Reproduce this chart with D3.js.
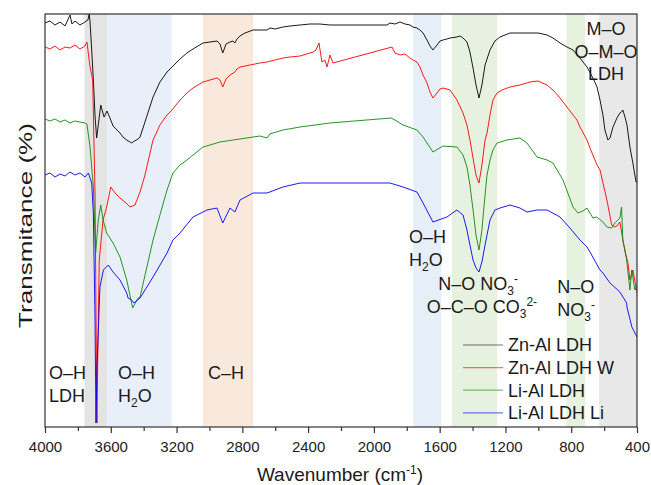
<!DOCTYPE html>
<html>
<head>
<meta charset="utf-8">
<script src="https://cdn.jsdelivr.net/npm/d3@7"></script>
<style>
  body { margin: 0; background: #fff; }
  svg { font-family: "Liberation Sans", Arial, sans-serif; }
</style>
</head>
<body>
<div id="chart"></div>
<script>
// spectra: [wavenumber (cm-1), transmittance (a.u.)]
const znAl = [
  [4000, 404], [3970, 406], [3939, 402], [3909, 405], [3878, 401], [3848, 412], [3836, 403], [3818, 406],
  [3787, 402], [3757, 405], [3739, 407], [3731, 413], [3726, 405], [3716, 377], [3706, 347], [3696, 312],
  [3686, 289], [3676, 302], [3661, 322], [3641, 310], [3623, 316], [3605, 309], [3586, 301], [3562, 297],
  [3544, 294], [3526, 290], [3503, 287], [3483, 285], [3473, 284], [3465, 285], [3434, 288], [3422, 290],
  [3392, 305], [3343, 330], [3301, 345], [3258, 355], [3228, 360], [3179, 368], [3137, 374], [3100, 378],
  [3039, 384], [2997, 385], [2954, 386], [2936, 383], [2919, 374], [2899, 383], [2875, 385], [2857, 386],
  [2845, 384], [2833, 388], [2814, 391], [2784, 394], [2735, 397], [2693, 397], [2650, 397], [2632, 399],
  [2601, 398], [2553, 400], [2510, 401], [2449, 402], [2389, 403], [2328, 403], [2267, 402], [1920, 402],
  [1902, 404], [1872, 403], [1841, 405], [1811, 403], [1780, 402], [1762, 400], [1738, 399], [1720, 397],
  [1701, 394], [1677, 387], [1659, 381], [1641, 377], [1616, 382], [1598, 386], [1580, 387], [1556, 388],
  [1537, 389], [1495, 390], [1476, 391], [1458, 389], [1434, 385], [1416, 375], [1397, 359], [1379, 342],
  [1361, 329], [1343, 342], [1324, 362], [1294, 377], [1264, 386], [1233, 390], [1172, 394], [1112, 394],
  [1051, 394], [1002, 394], [947, 392], [911, 389], [868, 384], [826, 380], [789, 377], [747, 369],
  [704, 360], [668, 349], [643, 340], [625, 327], [607, 312], [595, 297], [577, 287], [564, 289],
  [546, 300], [522, 309], [504, 314], [494, 315], [486, 317], [473, 310], [461, 302], [443, 280],
  [425, 264], [406, 245], [400, 245]
];

const znAlW = [
  [4000, 380], [3970, 378], [3939, 381], [3909, 377], [3878, 380], [3848, 379], [3818, 382], [3787, 378],
  [3757, 381], [3745, 385], [3726, 360], [3710, 347], [3696, 234], [3688, 80], [3684, 4], [3680, 60],
  [3670, 167], [3647, 207], [3625, 220], [3600, 240], [3574, 234], [3544, 229], [3507, 224], [3483, 220],
  [3453, 222], [3422, 235], [3392, 252], [3343, 287], [3301, 302], [3258, 312], [3228, 317], [3179, 327],
  [3137, 334], [3100, 339], [3039, 345], [2997, 347], [2954, 349], [2936, 347], [2919, 340], [2899, 348],
  [2875, 352], [2845, 355], [2833, 358], [2814, 360], [2753, 362], [2693, 364], [2650, 365], [2601, 367],
  [2553, 369], [2510, 370], [2449, 371], [2389, 374], [2370, 375], [2352, 377], [2334, 384], [2316, 365],
  [2298, 367], [2285, 360], [2267, 372], [2249, 364], [1890, 380], [1872, 374], [1841, 372], [1811, 373],
  [1780, 369], [1762, 367], [1738, 365], [1720, 360], [1701, 352], [1677, 344], [1659, 335], [1641, 329],
  [1616, 334], [1598, 338], [1580, 339], [1556, 338], [1537, 337], [1495, 327], [1458, 314], [1434, 302],
  [1416, 287], [1397, 269], [1379, 252], [1361, 244], [1343, 262], [1324, 287], [1312, 294], [1294, 312],
  [1276, 327], [1251, 334], [1221, 337], [1172, 340], [1112, 342], [1051, 345], [1002, 346], [947, 342],
  [911, 337], [868, 329], [826, 320], [789, 312], [765, 307], [747, 300], [704, 287], [686, 279],
  [643, 262], [625, 257], [583, 227], [554, 202], [535, 200], [522, 201], [504, 205], [486, 187],
  [467, 172], [455, 164], [443, 147], [425, 157], [406, 140], [400, 134]
];

const liAl = [
  [4000, 308], [3970, 306], [3939, 308], [3909, 305], [3878, 307], [3848, 304], [3818, 306], [3787, 305],
  [3757, 304], [3745, 303], [3726, 280], [3706, 240], [3692, 174], [3676, 207], [3661, 222], [3647, 207],
  [3625, 194], [3586, 184], [3544, 170], [3503, 147], [3467, 119], [3434, 129], [3422, 130], [3343, 187],
  [3301, 212], [3258, 237], [3222, 254], [3179, 262], [3137, 267], [3100, 272], [3039, 280], [2997, 282],
  [2936, 285], [2856, 287], [2735, 290], [2693, 291], [2650, 289], [2632, 293], [2553, 297], [2449, 300],
  [2267, 304], [1896, 309], [1872, 307], [1823, 302], [1738, 297], [1701, 290], [1641, 275], [1580, 281],
  [1495, 280], [1458, 272], [1434, 260], [1416, 242], [1397, 217], [1379, 192], [1361, 177], [1343, 197],
  [1324, 232], [1312, 252], [1294, 267], [1276, 277], [1251, 284], [1191, 287], [1112, 289], [1069, 284],
  [1008, 270], [947, 267], [911, 264], [850, 247], [789, 220], [759, 214], [729, 216], [704, 219],
  [668, 209], [645, 210], [607, 205], [583, 200], [554, 199], [535, 204], [504, 209], [494, 220],
  [486, 187], [463, 167], [443, 137], [432, 157], [413, 137], [400, 142]
];

const liAlLi = [
  [4000, 252], [3970, 254], [3939, 250], [3909, 253], [3878, 251], [3848, 255], [3818, 252], [3787, 254],
  [3757, 250], [3736, 254], [3716, 244], [3706, 214], [3696, 110], [3690, 4], [3684, 60], [3666, 140],
  [3645, 157], [3615, 162], [3586, 155], [3544, 147], [3503, 134], [3495, 129], [3473, 127], [3459, 124],
  [3422, 129], [3343, 150], [3258, 174], [3222, 187], [3179, 194], [3100, 210], [3015, 217], [2954, 219],
  [2919, 204], [2875, 219], [2845, 215], [2814, 227], [2735, 234], [2650, 234], [2553, 240], [2449, 244],
  [2267, 244], [1902, 244], [1823, 240], [1738, 235], [1701, 224], [1641, 205], [1556, 210], [1495, 217],
  [1458, 212], [1434, 197], [1416, 182], [1397, 167], [1379, 159], [1361, 155], [1343, 165], [1324, 182],
  [1294, 207], [1264, 217], [1233, 219], [1172, 222], [1112, 219], [1069, 215], [1008, 217], [947, 217],
  [868, 210], [808, 199], [747, 187], [704, 180], [686, 175], [625, 157], [607, 154], [564, 144],
  [504, 135], [463, 124], [461, 120], [431, 100], [400, 90]
];

const seriesNames = ["Zn-Al LDH", "Zn-Al LDH W", "Li-Al LDH", "Li-Al LDH Li"];
const seriesData = [znAl, znAlW, liAl, liAlLi];

// highlighted regions (cm-1)
const bandRanges = [[3760, 3620], [3620, 3230], [3040, 2735], [1760, 1590], [1525, 1250], [830, 715], [630, 400]];

const xTicks = [4000, 3600, 3200, 2800, 2400, 2000, 1600, 1200, 800, 400];
const xMinorTicks = [3800, 3400, 3000, 2600, 2200, 1800, 1400, 1000, 600];

// annotation text, segments: [text, "sub" | "sup" | undefined]
const annotations = [
  { wn: 3976, row: 0, lines: [[["O–H"]], [["LDH"]]] },
  { wn: 3556, row: 0, lines: [[["O–H"]], [["H"], ["2", "sub"], ["O"]]] },
  { wn: 3009, row: 0, lines: [[["C–H"]]] },
  { wn: 1786, row: 1, lines: [[["O–H"]], [["H"], ["2", "sub"], ["O"]]] },
  { wn: 1608, row: 2, lines: [[["N–O NO"], ["3", "sub"], ["-", "sup"]]] },
  { wn: 1679, row: 3, lines: [[["O–C–O CO"], ["3", "sub"], ["2-", "sup"]]] },
  { wn: 885, row: 4, lines: [[["N–O"]], [["NO"], ["3", "sub"], ["-", "sup"]]] },
  { wn: 588, row: 5, anchor: "middle", lines: [[["M–O"]], [["O–M–O"]], [["LDH"]]] }
];

const width = 651;
const height = 485;
const margin = { top: 14, left: 45, bottom: 58, right: 14 };
const iwidth = width - margin.left - margin.right;
const iheight = height - margin.top - margin.bottom;

const colors = ["#000000", "#ff0000", "#0a8a0a", "#0000ff"];
const bandColors = ["#e4e4e4", "#e8eff8", "#f9e9dc", "#e6eef8", "#e7f1e0", "#e7f1e0", "#e8e8e8"];
// baseline (px) of the first line of each annotation row
const rowBaselines = [379, 243, 290, 313, 293, 35];

const svg = d3.select("#chart")
  .append("svg")
  .attr("width", width)
  .attr("height", height);

const g = svg.append("g")
  .attr("transform", `translate(${margin.left},${margin.top})`);

const x = d3.scaleLinear().domain([4000, 400]).range([0, iwidth]);
const y = d3.scaleLinear().domain([0, 413]).range([iheight, 0]);

g.append("clipPath")
  .attr("id", "clip")
  .append("rect")
  .attr("width", iwidth)
  .attr("height", iheight);

g.append("g")
  .selectAll("rect")
  .data(bandRanges)
  .enter()
  .append("rect")
  .attr("x", (d) => x(d[0]))
  .attr("y", 0)
  .attr("width", (d) => x(d[1]) - x(d[0]))
  .attr("height", iheight)
  .style("fill", (d, i) => bandColors[i]);

const line = d3.line()
  .x((d) => x(d[0]))
  .y((d) => y(d[1]));

g.append("g")
  .attr("clip-path", "url(#clip)")
  .selectAll("path")
  .data(seriesData)
  .enter()
  .append("path")
  .attr("d", line)
  .style("fill", "none")
  .style("stroke", (d, i) => colors[i])
  .style("stroke-width", 0.9)
  .style("stroke-linejoin", "round");

// frame
g.append("rect")
  .attr("width", iwidth)
  .attr("height", iheight)
  .style("fill", "none")
  .style("stroke", "#333")
  .style("stroke-width", 1.2);

const xAxis = g.append("g")
  .attr("transform", `translate(0, ${iheight})`)
  .call(d3.axisBottom(x).tickValues(xTicks).tickSize(6).tickPadding(8).tickFormat(d3.format("d")));
xAxis.select(".domain").remove();
xAxis.selectAll("line").style("stroke", "#333").style("stroke-width", 1.2);
xAxis.selectAll("text").style("font-size", "15px").style("fill", "#222")
  .style("font-family", "'Liberation Sans', Arial, sans-serif");

const xMinor = g.append("g")
  .attr("transform", `translate(0, ${iheight})`)
  .call(d3.axisBottom(x).tickValues(xMinorTicks).tickSize(4).tickFormat(""));
xMinor.select(".domain").remove();
xMinor.selectAll("line").style("stroke", "#333").style("stroke-width", 1.2);

// annotations
function writeSegments(text, segs) {
  let cur = 0;
  segs.forEach((s) => {
    const off = s[1] === "sub" ? 5 : s[1] === "sup" ? -7 : 0;
    text.append("tspan")
      .attr("dy", off - cur)
      .style("font-size", s[1] ? "12px" : null)
      .text(s[0]);
    cur = off;
  });
}

annotations.forEach((a) => {
  a.lines.forEach((segs, li) => {
    const t = svg.append("text")
      .attr("x", margin.left + x(a.wn))
      .attr("y", rowBaselines[a.row] + li * 22.7)
      .attr("text-anchor", a.anchor || "start")
      .style("font-size", "18px")
      .style("fill", "#1a1a1a");
    writeSegments(t, segs);
  });
});

// legend
const legend = svg.append("g")
  .selectAll("g")
  .data(seriesNames)
  .enter()
  .append("g")
  .attr("transform", (d, i) => `translate(463, ${345 + i * 22.6})`);

legend.append("line")
  .attr("x1", 0)
  .attr("x2", 40)
  .style("stroke", (d, i) => colors[i])
  .style("stroke-opacity", 0.55)
  .style("stroke-width", 1.2);

legend.append("text")
  .attr("x", 45)
  .attr("y", 6.3)
  .style("font-size", "18px")
  .style("fill", "#1a1a1a")
  .text((d) => d);

// axis titles
const xTitle = svg.append("text")
  .attr("x", 340)
  .attr("y", 481)
  .attr("text-anchor", "middle")
  .style("font-size", "19px")
  .style("fill", "#1a1a1a");
writeSegments(xTitle, [["Wavenumber (cm"], ["-1", "sup"], [")"]]);

svg.append("text")
  .attr("transform", "translate(31.5, 225.5) rotate(-90)")
  .attr("text-anchor", "middle")
  .attr("textLength", 205)
  .attr("lengthAdjust", "spacingAndGlyphs")
  .style("font-size", "19px")
  .style("fill", "#1a1a1a")
  .text("Transmitance (%)");
</script>
</body>
</html>
